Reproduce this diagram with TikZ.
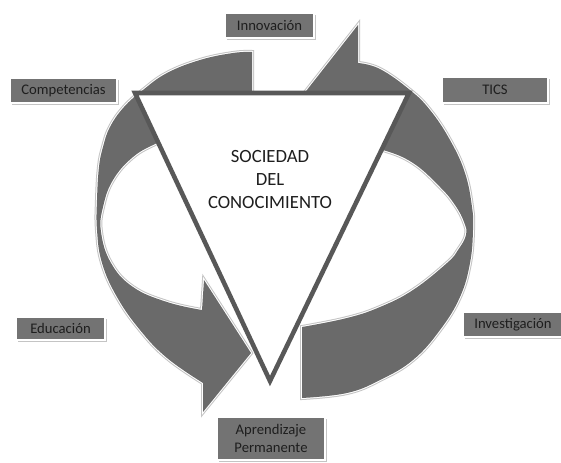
\documentclass[tikz,border=0pt]{standalone}
\usepackage{fontspec}
\setmainfont{Carlito}
\usepackage{xcolor}
\usepackage{tikz}
\usetikzlibrary{shadows}
\definecolor{arrowgray}{HTML}{6A6A6A}
\definecolor{boxgray}{HTML}{737373}
\definecolor{rimgray}{HTML}{C4C4C4}
\definecolor{edgegray}{HTML}{585858}
\definecolor{inkgray}{HTML}{1E1E1E}
\tikzset{
  tag/.style={draw=white, line width=1.5pt, fill=boxgray, text=inkgray, align=center, inner sep=0pt, font=\fontsize{11}{13.5}\selectfont, drop shadow={shadow xshift=1.3pt, shadow yshift=-1.3pt, fill=rimgray, opacity=1}},
  band/.style={fill=arrowgray, preaction={draw=rimgray, line width=3pt}, preaction={draw=white, line width=1.5pt}},
  frame/.style={draw=edgegray, fill=white, line width=3.4pt, line join=miter},
  title/.style={align=center, text=inkgray, font=\fontsize{14}{17.25}\selectfont}
}

\begin{document}
\begin{tikzpicture}[x=0.75pt, y=-0.75pt]
  \useasboundingbox (0,0) rectangle (561,463);
  \fill[white] (0,0) rectangle (561,463);

  % left arrow, running down from the top
  \path[band] plot[smooth, tension=0.7] coordinates {(252,52) (233,53) (200,60) (167,73) (143,90) (124,107) (110,127) (103,147) (99,167) (97,200) (97,230) (102,263) (117,297) (140,330) (167,358) (203,383)}
    -- (203,412) -- (251,353) -- (204,280) -- (202,310)
    -- plot[smooth, tension=0.7] coordinates {(202,310) (167,302) (133,287) (111,263) (101,232) (103,207) (113,180) (133,157) (157,143) (185,130) (220,122) (252,118)}
    -- cycle;

  % right arrow, running up from the bottom
  \path[band] plot[smooth, tension=0.7] coordinates {(302,398) (347,393) (380,380) (413,360) (440,330) (460,297) (470,263) (473,230) (472,207) (465,173) (450,140) (430,110) (410,90) (380,69) (358,63)}
    -- (358,25) -- (303,95) -- (358,182) -- (358,146)
    -- plot[smooth, tension=0.7] coordinates {(358,146) (383,150) (413,163) (440,187) (455,205) (464,222) (466,235) (458,250) (447,263) (413,290) (380,307) (347,318) (302,327)}
    -- cycle;

  \draw[frame] (135,93) -- (409,93) -- (270,381) -- cycle;
  \node[title] (core) at (270,180) {SOCIEDAD\\DEL\\CONOCIMIENTO};

  \node[tag, minimum width=66.75pt, minimum height=18.75pt] (innov) at (269.5,25.5) {Innovación};
  \node[tag, minimum width=80.25pt, minimum height=18.75pt] (comp) at (63.5,90.5) {Competencias};
  \node[tag, minimum width=79.5pt, minimum height=19.5pt] (tics) at (495,90) {TICS};
  \node[tag, minimum width=66.75pt, minimum height=17.25pt] (educ) at (60.5,328.5) {Educación};
  \node[tag, minimum width=75pt, minimum height=18.75pt] (inves) at (513,324.5) {Investigación};
  \node[tag, minimum width=81pt, minimum height=32.25pt] (aprend) at (271,438.5) {Aprendizaje\\Permanente};
\end{tikzpicture}
\end{document}
